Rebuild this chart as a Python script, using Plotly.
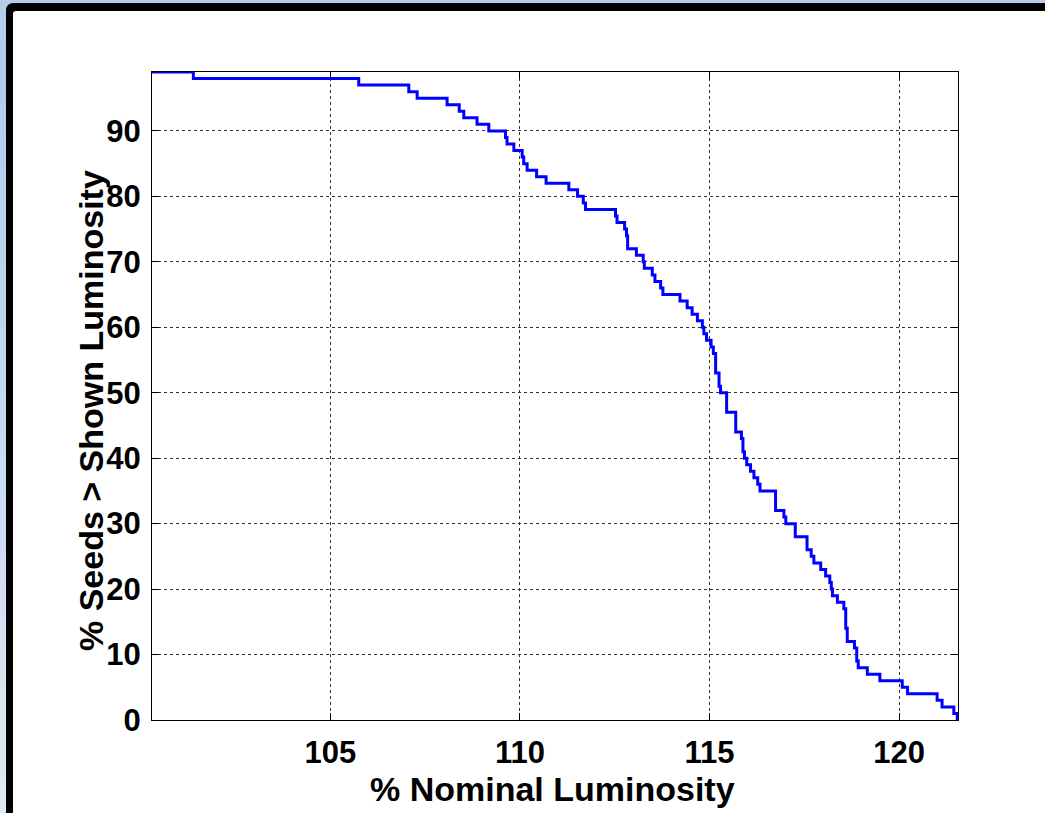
import plotly.graph_objects as go

# ---- data ----
x_start = 100.30
y_start = 99
x_end = 121.55

drop_x = [101.39, 105.75, 107.07, 107.29, 108.08, 108.40, 108.52, 108.87, 109.18, 109.62,
          109.66, 109.84, 110.06, 110.10, 110.19, 110.44, 110.69, 111.29, 111.52, 111.67,
          111.73, 112.52, 112.56, 112.76, 112.81, 112.84, 113.07, 113.25, 113.28, 113.49,
          113.56, 113.71, 113.77, 114.22, 114.41, 114.54, 114.68, 114.81, 114.85, 114.92,
          115.04, 115.10, 115.16, 115.25, 115.29, 115.45, 115.69, 115.84, 115.88, 115.92,
          115.98, 116.08, 116.17, 116.27, 116.33, 116.74, 116.96, 117.01, 117.26, 117.57,
          117.68, 117.75, 117.93, 118.06, 118.17, 118.21, 118.24, 118.37, 118.54, 118.59,
          118.63, 118.82, 118.88, 118.92, 119.16, 119.49, 120.08, 120.22, 121.00, 121.13,
          121.44, 121.53]
drop_y = [98, 97, 96, 95, 94, 93, 92, 91, 90, 89,
          88, 87, 86, 85, 84, 83, 82, 81, 80, 79,
          78, 77, 76, 75, 74, 72, 71, 70, 69, 68,
          67, 66, 65, 64, 63, 62, 61, 60, 59, 58,
          57, 56, 53, 51, 50, 47, 44, 43, 41, 40,
          39, 38, 37, 36, 35, 32, 31, 30, 28, 26,
          25, 24, 23, 22, 21, 20, 19, 18, 17, 14,
          12, 11, 9, 8, 7, 6, 5, 4, 3, 2,
          1, 0]

x_ticks = [105, 110, 115, 120]
y_ticks = [0, 10, 20, 30, 40, 50, 60, 70, 80, 90]
x_title = "% Nominal Luminosity"
y_title = "% Seeds > Shown Luminosity"

xs = [x_start] + drop_x + [x_end]
ys = [y_start] + drop_y + [drop_y[-1]]

W, H = 1045, 813
ML, MR, MT, MB = 152, 87, 72, 93
PW, PH = W - ML - MR, H - MT - MB

def px(x):
    return (x - ML) / PW

def py(y):
    return 1 - (y - MT) / PH

FONT = "Liberation Sans, Arial, sans-serif"

fig = go.Figure()
fig.add_trace(go.Scatter(
    x=xs, y=ys, mode="lines", line=dict(color="#0000ff", width=3, shape="hv"),
    hoverinfo="skip", showlegend=False))

axis_common = dict(
    showline=True, linecolor="black", linewidth=1, mirror="ticks",
    ticks="inside", ticklen=7, tickcolor="black", tickwidth=1,
    showgrid=True, gridcolor="#333333", gridwidth=1, griddash="dot",
    zeroline=False,
    tickfont=dict(family=FONT, size=31, color="black", weight="bold"),
)

fig.update_xaxes(range=[x_start, x_end], tickvals=x_ticks, ticktext=[str(v) for v in x_ticks],
                 ticklabelstandoff=5, **axis_common)
fig.update_yaxes(range=[0, y_start], tickvals=y_ticks, ticktext=[str(v) for v in y_ticks],
                 ticklabelstandoff=4, **axis_common)

shapes = []
# light blue slide background (gradient approximated by bands on the left strip)
shapes.append(dict(type="rect", xref="paper", yref="paper", x0=px(0), x1=px(W), y0=py(0), y1=py(H),
                   fillcolor="#b3cdea", line=dict(width=0), layer="below"))
n = 24
c0 = (176, 204, 234)
c1 = (222, 233, 245)
for i in range(n):
    t = i / (n - 1)
    col = "rgb(%d,%d,%d)" % tuple(int(c0[k] + (c1[k] - c0[k]) * t) for k in range(3))
    y0p = 40 + i * (H - 40) / n
    y1p = 40 + (i + 1) * (H - 40) / n + 1
    shapes.append(dict(type="rect", xref="paper", yref="paper", x0=px(0), x1=px(7),
                       y0=py(y0p), y1=py(y1p), fillcolor=col, line=dict(width=0), layer="below"))

def rounded(x0, y0, x1, y1, r):
    # rounded top-left corner only; other corners run off the page
    return (f"M {px(x0)} {py(y1)} L {px(x0)} {py(y0 + r)} "
            f"Q {px(x0)} {py(y0)} {px(x0 + r)} {py(y0)} "
            f"L {px(x1)} {py(y0)} L {px(x1)} {py(y1)} Z")

shapes.append(dict(type="path", xref="paper", yref="paper", path=rounded(6, 3, W + 20, H + 20, 8),
                   fillcolor="black", line=dict(width=0), layer="below"))
shapes.append(dict(type="path", xref="paper", yref="paper", path=rounded(13, 11, W + 20, H + 20, 3),
                   fillcolor="white", line=dict(width=0), layer="below"))

annotations = [
    dict(text=x_title, xref="paper", yref="paper", x=px(552), y=py(789), showarrow=False,
         xanchor="center", yanchor="middle",
         font=dict(family=FONT, size=34, color="black", weight="bold")),
    dict(text=y_title, xref="paper", yref="paper", x=px(91), y=py(411), showarrow=False,
         xanchor="center", yanchor="middle", textangle=-90,
         font=dict(family=FONT, size=34, color="black", weight="bold")),
]

fig.update_layout(
    width=W, height=H,
    margin=dict(l=ML, r=MR, t=MT, b=MB, pad=0),
    paper_bgcolor="#b3cdea", plot_bgcolor="rgba(0,0,0,0)",
    shapes=shapes, annotations=annotations, showlegend=False,
)

fig.write_html("out.html")
